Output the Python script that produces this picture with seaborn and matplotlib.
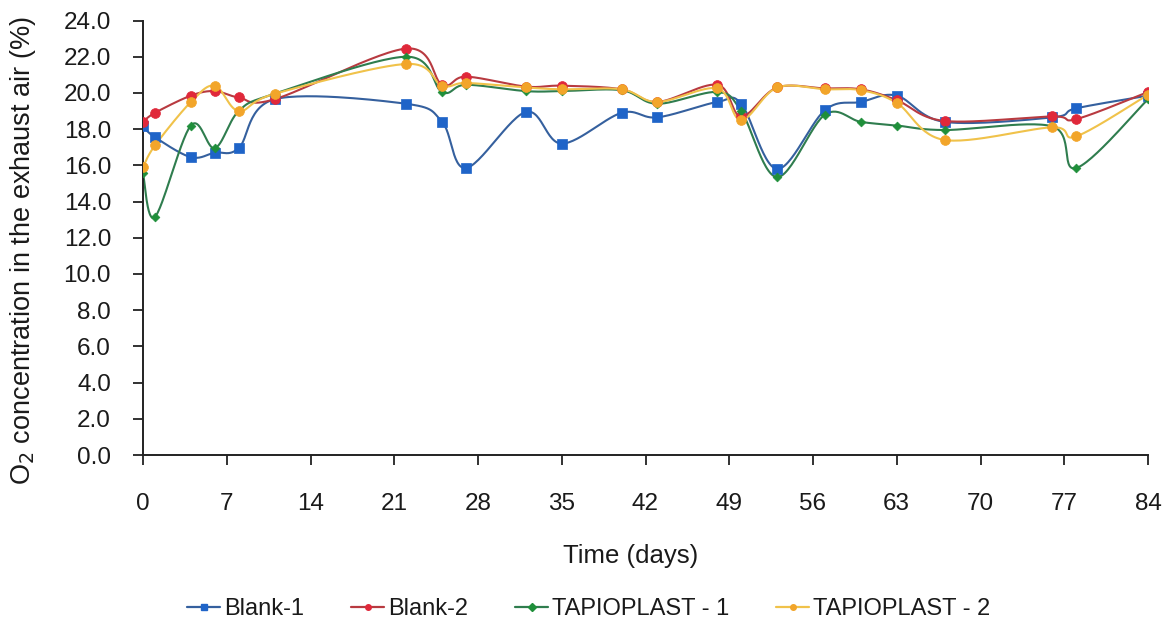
import numpy as np
import pandas as pd
import matplotlib
matplotlib.use("Agg")
import matplotlib.pyplot as plt
from matplotlib.lines import Line2D
import seaborn as sns

# ---- data ----
days = [0, 1, 4, 6, 8, 11, 22, 25, 27, 32, 35, 40, 43, 48, 50, 53, 57, 60, 63, 67, 76, 78, 84]
blank_1 = [18.15, 17.55, 16.45, 16.7, 16.95, 19.65, 19.4, 18.4, 15.85, 18.95, 17.2, 18.9,
           18.65, 19.5, 19.4, 15.8, 19.05, 19.5, 19.85, 18.4, 18.65, 19.15, 19.85]
blank_2 = [18.4, 18.9, 19.85, 20.1, 19.75, 19.65, 22.45, 20.45, 20.9, 20.35, 20.4, 20.2,
           19.5, 20.45, 18.7, 20.3, 20.25, 20.2, 19.6, 18.45, 18.7, 18.55, 20.05]
tapioplast_1 = [15.55, 13.15, 18.2, 16.95, 19.0, 19.95, 22.0, 20.05, 20.45, 20.1, 20.1, 20.15,
                19.4, 20.05, 19.0, 15.35, 18.8, 18.4, 18.2, 17.95, 18.15, 15.85, 19.65]
tapioplast_2 = [15.9, 17.1, 19.5, 20.4, 19.0, 19.95, 21.6, 20.4, 20.55, 20.3, 20.2, 20.2,
                19.5, 20.25, 18.5, 20.3, 20.2, 20.15, 19.45, 17.4, 18.1, 17.6, 19.9]

series_names = ["Blank-1", "Blank-2", "TAPIOPLAST - 1", "TAPIOPLAST - 2"]
series_values = [blank_1, blank_2, tapioplast_1, tapioplast_2]

y_ticks = [0, 2, 4, 6, 8, 10, 12, 14, 16, 18, 20, 22, 24]
x_ticks = [0, 7, 14, 21, 28, 35, 42, 49, 56, 63, 70, 77, 84]

# ---- styles ----
line_colors = ["#35609e", "#b83a40", "#2f7d4e", "#f0c24a"]
marker_colors = ["#1f64c8", "#e0283a", "#1f8f3a", "#f2a52a"]
markers = ["s", "o", "D", "o"]
marker_sizes = [46, 50, 20, 50]

sns.set_theme(style="white")
plt.rcParams["font.family"] = ["Liberation Sans", "DejaVu Sans"]

fig = plt.figure(figsize=(11.68, 6.28), dpi=100)
ax = fig.add_axes([143 / 1168, 1 - 455 / 628, (1148 - 143) / 1168, (455 - 20.5) / 628])

# Excel-like smoothed line (Bezier through the data points)
sx, sy = 11.96, 18.1


def smooth_curve(xs, ys, n=30):
    P = np.column_stack([np.asarray(xs, float) * sx, np.asarray(ys, float) * sy])
    out = []
    m = len(P)
    for i in range(m - 1):
        p0 = P[i - 1] if i > 0 else P[i]
        p1 = P[i]
        p2 = P[i + 1]
        p3 = P[i + 2] if i + 2 < m else P[i + 1]
        c1 = p1 + (p2 - p0) / 6.0
        c2 = p2 - (p3 - p1) / 6.0
        t = np.linspace(0, 1, n)[:, None]
        seg = ((1 - t) ** 3) * p1 + 3 * ((1 - t) ** 2) * t * c1 + 3 * (1 - t) * t ** 2 * c2 + t ** 3 * p2
        out.append(seg if i == 0 else seg[1:])
    out = np.vstack(out)
    return out[:, 0] / sx, out[:, 1] / sy


for name, vals, lc, mc, mk, ms in zip(series_names, series_values, line_colors,
                                      marker_colors, markers, marker_sizes):
    cx, cy = smooth_curve(days, vals)
    sns.lineplot(x=cx, y=cy, ax=ax, color=lc, linewidth=1.5, sort=False,
                 estimator=None, legend=False)
    sns.scatterplot(x=days, y=vals, ax=ax, color=mc, marker=mk, s=ms,
                    edgecolor=mc, linewidth=0.5, legend=False, zorder=3)

ax.set_xlim(0, 84)
ax.set_ylim(0, 24)
ax.set_xticks(x_ticks)
ax.set_xticklabels([str(v) for v in x_ticks])
ax.set_yticks(y_ticks)
ax.set_yticklabels([f"{v:.1f}" for v in y_ticks])

for s in ["top", "right"]:
    ax.spines[s].set_visible(False)
for s in ["left", "bottom"]:
    ax.spines[s].set_color("#222222")
    ax.spines[s].set_linewidth(1.4)

ax.tick_params(axis="y", direction="out", length=7, width=1.3, color="#222222",
               pad=16, labelsize=17.5, labelcolor="#1a1a1a", left=True)
ax.tick_params(axis="x", direction="out", length=7, width=1.3, color="#222222",
               pad=20, labelsize=17.5, labelcolor="#1a1a1a", bottom=True)

ax.set_xlabel("Time (days)", fontsize=18.5, color="#1a1a1a")
ax.set_ylabel("O$_2$ concentration in the exhaust air (%)", fontsize=19.5,
              color="#1a1a1a")
ax.yaxis.set_label_coords(-0.104, 0.47)
ax.xaxis.set_label_coords(0.485, -0.205)

handles = [Line2D([0], [0], color=lc, lw=1.6, marker=mk, markersize=4,
                  markerfacecolor=mc, markeredgecolor=mc)
           for lc, mc, mk in zip(line_colors, marker_colors, markers)]
fig.legend(handles, series_names, loc="center", bbox_to_anchor=(0.504, 1 - 609 / 628),
           ncol=4, frameon=False, fontsize=17, handlelength=1.4, handletextpad=0.15,
           columnspacing=2.0, labelcolor="#1a1a1a")

fig.savefig("out.png", dpi=100)
